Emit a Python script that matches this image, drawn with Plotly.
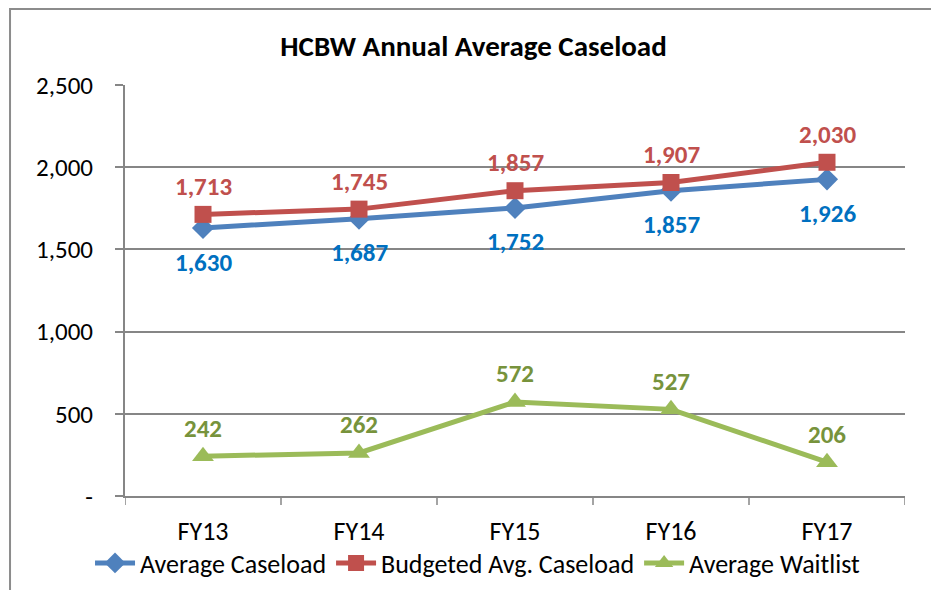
import plotly.graph_objects as go

categories = ["FY13", "FY14", "FY15", "FY16", "FY17"]
avg_caseload = [1630, 1687, 1752, 1857, 1926]
budgeted_caseload = [1713, 1745, 1857, 1907, 2030]
avg_waitlist = [242, 262, 572, 527, 206]
y_tickvals = [0, 500, 1000, 1500, 2000, 2500]
y_ticktext = ["-", "500", "1,000", "1,500", "2,000", "2,500"]

FONT = "Carlito, Calibri, 'Liberation Sans Narrow', 'Open Sans', sans-serif"

def fmt(v):
    return f"{v:,}"

series = [
    ("Average Caseload", avg_caseload, "#4F81BD", "#0070C0", "diamond", 17, -34),
    ("Budgeted Avg. Caseload", budgeted_caseload, "#C0504D", "#C0504D", "square", 17, 28),
    ("Average Waitlist", avg_waitlist, "#9BBB59", "#77933C", "triangle-up", 19, 28),
]

fig = go.Figure()
for name, vals, lc, tc, sym, ms, shift in series:
    fig.add_trace(go.Scatter(
        x=categories, y=vals, name=name, mode="lines+markers",
        line=dict(color=lc, width=5),
        marker=dict(symbol=sym, size=ms, color=lc),
    ))
    for c, v in zip(categories, vals):
        fig.add_annotation(x=c, y=v, text=fmt(v), showarrow=False, yshift=shift,
                           font=dict(color=tc, size=25, family=FONT, weight="bold"))

# outer chart border
fig.add_shape(type="rect", xref="paper", yref="paper",
              x0=-0.1474, x1=1.0417, y0=-0.35, y1=1.185,
              line=dict(color="#8C8C8C", width=2), fillcolor="rgba(0,0,0,0)", layer="below")

fig.update_layout(
    width=931, height=582,
    margin=dict(l=117, r=34, t=77, b=94, autoexpand=False),
    paper_bgcolor="white", plot_bgcolor="white",
    font=dict(family=FONT, size=25, color="black"),
    title=dict(text="<b>HCBW Annual Average Caseload</b>", x=0.5, xref="container", xanchor="center",
               y=0.935, yref="container", yanchor="middle", font=dict(size=29, family=FONT, color="black")),
    showlegend=True,
    legend=dict(orientation="h", x=0.4526, xanchor="center", y=-0.163, yanchor="middle",
                font=dict(size=26, family=FONT), itemwidth=40, tracegroupgap=0,
                bgcolor="rgba(0,0,0,0)"),
    xaxis=dict(
        type="category", range=[-0.5, 4.5],
        showline=True, linecolor="#868686", linewidth=2,
        ticks="outside", ticklen=0, showgrid=False,
        tickfont=dict(size=26, family=FONT), ticklabelstandoff=11,
    ),
    yaxis=dict(
        range=[0, 2500], tickvals=y_tickvals, ticktext=y_ticktext,
        showgrid=True, gridcolor="#868686", gridwidth=1.5,
        showline=True, linecolor="#868686", linewidth=2,
        ticks="outside", ticklen=8, tickcolor="#868686", tickwidth=1.5,
        tickfont=dict(size=25, family=FONT), zeroline=False, ticklabelstandoff=17,
    ),
)

# category boundary ticks on x axis
for i in range(len(categories) + 1):
    fig.add_shape(type="line", xref="x", yref="paper",
                  x0=i - 0.5, x1=i - 0.5, y0=0, y1=-0.022,
                  line=dict(color="#868686", width=1.5))

fig.write_html("out.html")
